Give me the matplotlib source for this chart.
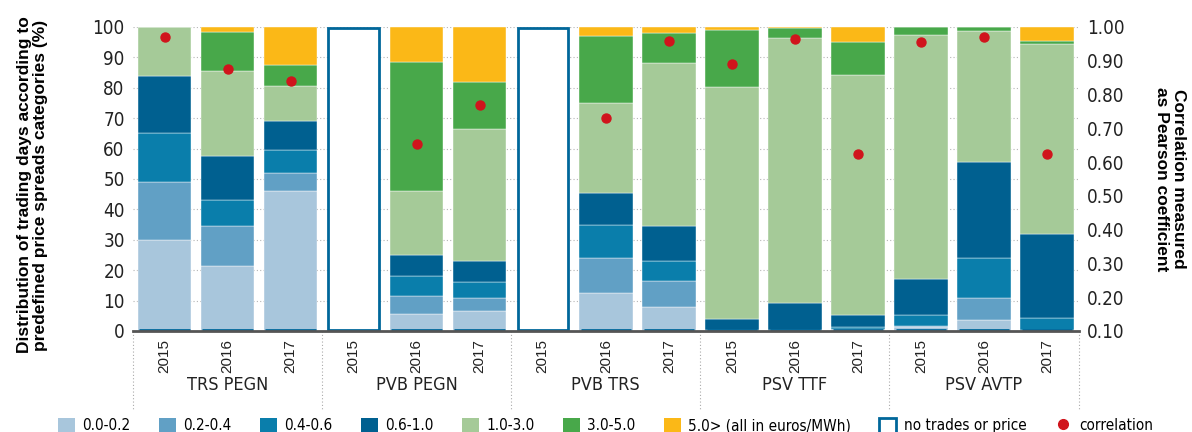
import numpy as np
import matplotlib
matplotlib.use("Agg")
import matplotlib.pyplot as plt
from matplotlib.patches import Patch
from matplotlib.lines import Line2D
import matplotlib.transforms as mtransforms

plt.rcParams['font.family'] = ['DejaVu Sans']
plt.rcParams['font.stretch'] = 'condensed'

groups = ['TRS PEGN', 'PVB PEGN', 'PVB TRS', 'PSV TTF', 'PSV AVTP']
years = ['2015', '2016', '2017']

# share of trading days per spread category (%), 15 bars
c00 = [30, 21.5, 46, 0, 5.5, 6.5, 0, 12.5, 8, 0, 0, 0.3, 1.2, 3.5, 0]
c02 = [19, 13, 6, 0, 6, 4.5, 0, 11.5, 8.5, 0, 0, 0.4, 0.5, 7.5, 0.3]
c04 = [16, 8.5, 7.5, 0, 6.5, 5, 0, 11, 6.5, 0.3, 0.3, 0.7, 3.5, 13, 4]
c06 = [19, 14.5, 9.5, 0, 7, 7, 0, 10.5, 11.5, 3.5, 9, 3.8, 12, 31.5, 27.5]
c10 = [16, 28, 11.5, 0, 21, 43.5, 0, 29.5, 53.5, 76.5, 87, 79, 80.3, 43.3, 62.7]
c30 = [0, 13, 7, 0, 42.5, 15.5, 0, 22, 10, 18.7, 3.5, 10.8, 2.5, 1.2, 1]
c50 = [0, 1.5, 12.5, 0, 11.5, 18, 0, 3, 2, 1, 0.2, 5, 0, 0, 4.5]
no_trades = [0, 0, 0, 1, 0, 0, 1, 0, 0, 0, 0, 0, 0, 0, 0]
corr = [0.97, 0.875, 0.84, np.nan, 0.655, 0.77, np.nan, 0.73, 0.96,
        0.89, 0.965, 0.625, 0.955, 0.97, 0.625]

cats = ['0.0-0.2', '0.2-0.4', '0.4-0.6', '0.6-1.0', '1.0-3.0', '3.0-5.0',
        '5.0> (all in euros/MWh)']
colors = ['#a8c6dc', '#61a0c5', '#0a7eab', '#006090', '#a5ca98', '#48a84a', '#fbb817']
box_col = '#00679a'
dot_col = '#d0141c'
REG = ['Liberation Sans', 'DejaVu Sans']

fig = plt.figure(figsize=(11.92, 4.32), dpi=100)
ax = fig.add_axes([0.1116, 0.2338, 0.7932, 0.7037])

x = np.arange(15)
bottom = np.zeros(15)
for vals, col in zip([c00, c02, c04, c06, c10, c30, c50], colors):
    vals = np.array(vals, dtype=float)
    ax.bar(x, vals, 0.85, bottom=bottom, color=col, edgecolor='white', linewidth=0.3, zorder=2)
    bottom += vals

nt = np.array(no_trades) * 99.6
ax.bar(x, nt, 0.80, bottom=0.2, facecolor='white', edgecolor=box_col, linewidth=2,
       zorder=2)

ax.set_xlim(-0.5, 14.5)
ax.set_ylim(0, 100)
ax.set_yticks(range(0, 101, 10))
ax.yaxis.grid(True, linestyle=(0, (1, 2)), color='#b5b5b5', linewidth=0.8)
ax.set_axisbelow(True)
for s in ['top', 'left', 'right']:
    ax.spines[s].set_visible(False)
ax.spines['bottom'].set_color('#555555')
ax.spines['bottom'].set_linewidth(2)
ax.spines['bottom'].set_zorder(3)
ax.tick_params(axis='y', length=0, labelsize=13.5, pad=6, colors='#222222')
ax.set_xticks(x)
ax.set_xticklabels(years * 5, rotation=90, family=REG, stretch='normal', fontsize=11)
ax.tick_params(axis='x', length=0, pad=6, colors='#222222')

ax.set_ylabel('Distribution of trading days according to\npredefined price spreads categories (%)',
              family=REG, stretch='normal', fontweight='bold', fontsize=12.5,
              linespacing=1.1)
ax.yaxis.set_label_coords(-0.09, 0.48)

trans = mtransforms.blended_transform_factory(ax.transData, ax.transAxes)
for b in [-0.5, 2.5, 5.5, 8.5, 11.5, 14.5]:
    ax.plot([b, b], [0, -0.26], transform=trans, clip_on=False,
            color='#aaaaaa', linestyle=(0, (1, 2)), linewidth=0.8)
for i, g in enumerate(groups):
    ax.text(3 * i + 1, -0.178, g, transform=trans, ha='center', va='center',
            fontsize=13, color='#222222')

ax2 = ax.twinx()
ax2.scatter(x, corr, s=42, color=dot_col, zorder=5)
ax2.set_ylim(0.10, 1.00)
ax2.set_yticks(np.arange(0.1, 1.001, 0.1))
ax2.set_yticklabels(['%.2f' % v for v in np.arange(0.1, 1.001, 0.1)])
for s in ['top', 'left', 'right', 'bottom']:
    ax2.spines[s].set_visible(False)
ax2.tick_params(axis='y', length=0, labelsize=13.5, pad=6, colors='#222222')
ax2.set_ylabel('Correlation measured\nas Pearson coefficient', rotation=270,
               family=REG, stretch='normal', fontweight='bold', fontsize=12.5,
               labelpad=44, linespacing=1.1)

handles = [Patch(facecolor=c, edgecolor='none') for c in colors]
handles.append(Patch(facecolor='white', edgecolor=box_col, linewidth=2))
handles.append(Line2D([], [], marker='o', linestyle='none', color=dot_col, markersize=7))
labels = cats + ['no trades or price', 'correlation']
fig.legend(handles, labels, loc='lower center', bbox_to_anchor=(0.508, -0.035), ncol=9,
           frameon=False, fontsize=11, handlelength=1.1, handleheight=1.1,
           handletextpad=0.5, columnspacing=1.85)

fig.savefig('out.png', dpi=100)
